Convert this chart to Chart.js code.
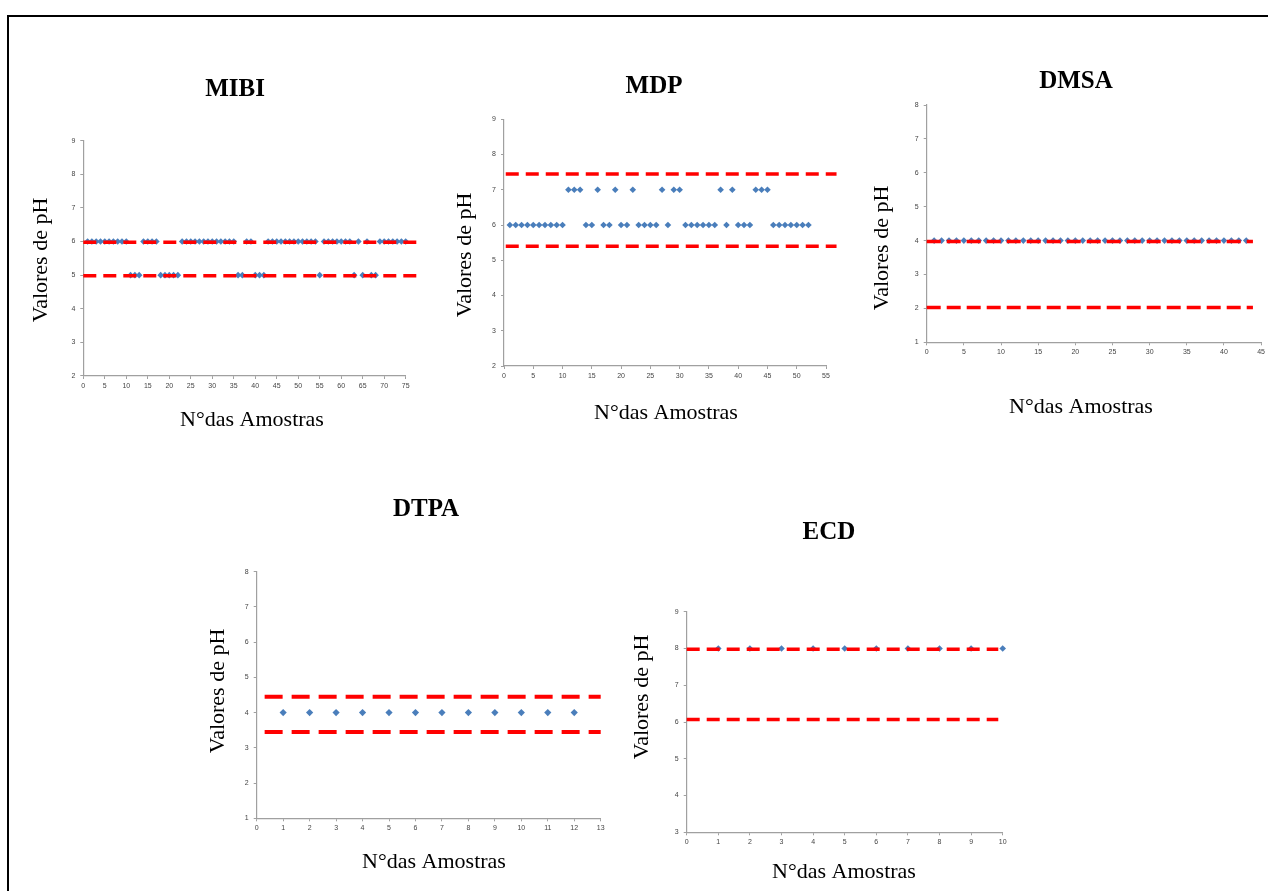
<!DOCTYPE html>
<html><head><meta charset="utf-8">
<script src="https://cdn.jsdelivr.net/npm/chart.js@4.4.0/dist/chart.umd.min.js"></script>
<style>
html,body{margin:0;padding:0;background:#fff;width:1268px;height:891px;overflow:hidden;}
#frame{position:absolute;left:7px;top:15px;width:1300px;height:900px;border-top:2px solid #000;border-left:2px solid #000;}
canvas{position:absolute;left:0;top:0;}
</style></head><body>
<div id="frame"></div>
<canvas id="cMIBI" width="1268" height="891"></canvas>
<canvas id="cMDP" width="1268" height="891"></canvas>
<canvas id="cDMSA" width="1268" height="891"></canvas>
<canvas id="cDTPA" width="1268" height="891"></canvas>
<canvas id="cECD" width="1268" height="891"></canvas>
<script>
// ---- data (pH of each sample, sample number = position in list) ----
const mibiPH = [6,6,6,6,6,6,6,6,6,6, 5,5,5, 6,6,6,6, 5,5,5,5,5,
  6,6,6,6,6,6,6,6,6,6,6,6,6, 5,5, 6,6, 5,5,5,
  6,6,6,6,6,6,6,6,6,6,6,6, 5, 6,6,6,6,6,6,6, 5, 6, 5, 6, 5,5,
  6,6,6,6,6,6,6];
const mdpPH = [6,6,6,6,6,6,6,6,6,6, 7,7,7, 6,6, 7, 6,6, 7, 6,6, 7,
  6,6,6,6, 7, 6, 7,7, 6,6,6,6,6,6, 7, 6, 7, 6,6,6, 7,7,7,
  6,6,6,6,6,6,6];
const dmsaPH = [4,4,4,4,4,4,4,4,4,4,4,4,4,4,4,4,4,4,4,4,4,4,4,4,4,4,4,4,4,4,4,4,4,4,4,4,4,4,4,4,4,4,4];
const dtpaPH = [4,4,4,4,4,4,4,4,4,4,4,4];
const ecdPH = [8,8,8,8,8,8,8,8,8,8];

// limit lines (pH levels) and their x extent
const mibiLimits = [5.98, 4.98]; const mibiLimitSpan = [0, 77.5];
const mdpLimits = [7.45, 5.4];   const mdpLimitSpan = [0.3, 56.8];
const dmsaLimits = [3.97, 2.03]; const dmsaLimitSpan = [0, 43.9];
const dtpaLimits = [4.45, 3.45]; const dtpaLimitSpan = [0.3, 13];
const ecdLimits = [7.98, 6.07];  const ecdLimitSpan = [0, 9.86];

// axis ranges [min, max, step]
const mibiX = [0, 75, 5]; const mibiY = [2, 9, 1];
const mdpX = [0, 55, 5];  const mdpY = [2, 9, 1];
const dmsaX = [0, 45, 5]; const dmsaY = [1, 8, 1];
const dtpaX = [0, 13, 1]; const dtpaY = [1, 8, 1];
const ecdX = [0, 10, 1];  const ecdY = [3, 9, 1];

const titles = ['MIBI', 'MDP', 'DMSA', 'DTPA', 'ECD'];
const yLabel = 'Valores de pH';
const xLabel = 'N°das Amostras';

// ---- layout (page pixels) ----
const layouts = {
  MIBI: {l:83.3, r:405.7, t:140.7, b:376, tx:235, ty:90, yx:41, yy:260, xx:252, xy:420, dash:[13,7], lw:3.5, pr:3.3},
  MDP:  {l:504, r:826, t:119.3, b:366, tx:654, ty:87, yx:465, yy:255, xx:666, xy:413, dash:[13,7], lw:3.5, pr:3.3},
  DMSA: {l:926.7, r:1264.3, t:105, b:342.3, tx:1076, ty:82, yx:882, yy:248, xx:1081, xy:407, dash:[14,6], lw:3.5, pr:3.3},
  DTPA: {l:256.7, r:600.7, t:571.7, b:818.3, tx:426, ty:510, yx:218, yy:691, xx:434, xy:862, dash:[18,9], lw:3.8, pr:3.6},
  ECD:  {l:686.7, r:1002.7, t:611.7, b:832.3, tx:829, ty:533, yx:642, yy:697, xx:844, xy:872, dash:[13,7], lw:3.5, pr:3.3}
};

const panelText = {
  id: 'panelText',
  afterDraw(chart, args, o) {
    const ctx = chart.ctx;
    ctx.save();
    ctx.fillStyle = '#000';
    ctx.textAlign = 'center';
    ctx.textBaseline = 'middle';
    ctx.font = 'bold 25px "Liberation Serif", "DejaVu Serif", serif';
    ctx.fillText(o.title, o.tx, o.ty);
    ctx.font = '22px "Liberation Serif", "DejaVu Serif", serif';
    ctx.fillText(o.xlabel, o.xx, o.xy);
    ctx.translate(o.yx, o.yy);
    ctx.rotate(-Math.PI / 2);
    ctx.fillText(o.ylabel, 0, 0);
    ctx.restore();
  }
};

const BLUE = '#4a7ebb';
const RED = '#ff0000';
const AXIS = '#a0a0a0';

function build(name, values, limits, span, xr, yr) {
  const L = layouts[name];
  const pts = values.map((v, i) => ({x: i + 1, y: v}));
  const limitSets = limits.map(v => ({
    data: [{x: span[0], y: v}, {x: span[1], y: v}],
    showLine: true, borderColor: RED, borderWidth: L.lw, borderDash: L.dash,
    pointRadius: 0, fill: false, clip: false, order: 0
  }));
  new Chart(document.getElementById('c' + name), {
    type: 'scatter',
    data: {datasets: [...limitSets, {
      data: pts, pointStyle: 'rectRot', pointRadius: L.pr,
      backgroundColor: BLUE, borderColor: BLUE, borderWidth: 0, order: 1, clip: false
    }]},
    plugins: [panelText],
    options: {
      responsive: false, animation: false, events: [],
      layout: {padding: {left: L.l - 30, right: 1268 - L.r, top: L.t, bottom: 891 - L.b - 20}},
      plugins: {
        legend: {display: false}, tooltip: {enabled: false},
        panelText: {title: name, tx: L.tx, ty: L.ty, ylabel: yLabel, yx: L.yx, yy: L.yy, xlabel: xLabel, xx: L.xx, xy: L.xy}
      },
      scales: {
        x: {
          type: 'linear', min: xr[0], max: xr[1],
          ticks: {stepSize: xr[2], autoSkip: false, maxRotation: 0, padding: 3, color: '#444', font: {size: 7, family: 'Liberation Sans'}},
          grid: {drawOnChartArea: false, drawTicks: true, tickLength: 3, color: AXIS},
          border: {display: true, color: AXIS, width: 1.2},
          afterFit(s) { s.height = 20; }
        },
        y: {
          type: 'linear', min: yr[0], max: yr[1],
          ticks: {stepSize: yr[2], autoSkip: false, padding: 5, color: '#444', font: {size: 7, family: 'Liberation Sans'}},
          grid: {drawOnChartArea: false, drawTicks: true, tickLength: 3, color: AXIS},
          border: {display: true, color: AXIS, width: 1.2},
          afterFit(s) { s.width = 30; }
        }
      }
    }
  });
}

build('MIBI', mibiPH, mibiLimits, mibiLimitSpan, mibiX, mibiY);
build('MDP', mdpPH, mdpLimits, mdpLimitSpan, mdpX, mdpY);
build('DMSA', dmsaPH, dmsaLimits, dmsaLimitSpan, dmsaX, dmsaY);
build('DTPA', dtpaPH, dtpaLimits, dtpaLimitSpan, dtpaX, dtpaY);
build('ECD', ecdPH, ecdLimits, ecdLimitSpan, ecdX, ecdY);
</script>
</body></html>
